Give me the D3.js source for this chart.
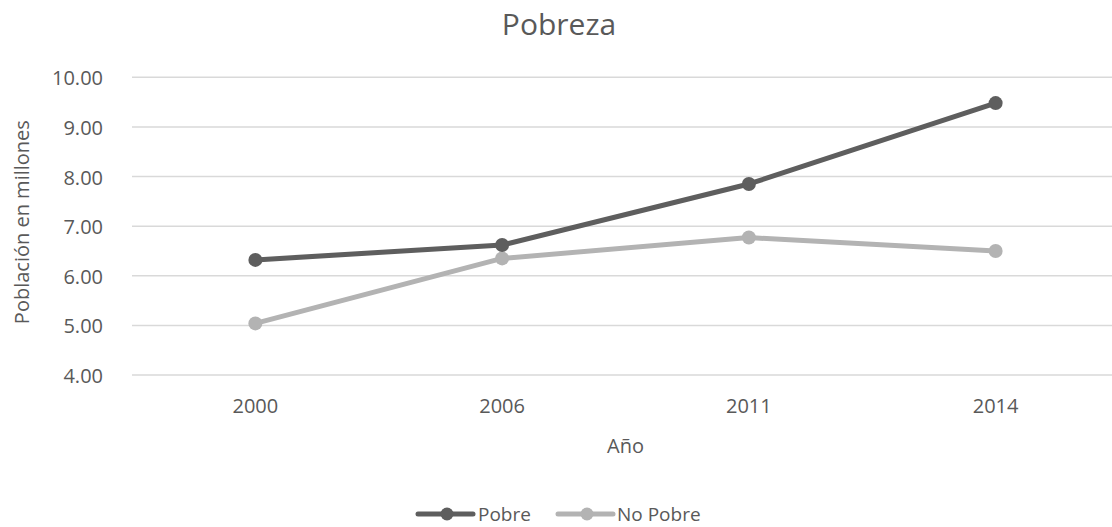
<!DOCTYPE html>
<html>
<head>
<meta charset="utf-8">
<script src="https://cdn.jsdelivr.net/npm/d3@7"></script>
<style>
  html, body { margin: 0; padding: 0; background: #fff; }
  svg { display: block; }
  text { font-family: "Open Sans", sans-serif; fill: #595959; }
</style>
</head>
<body>
<svg id="chart" width="1112" height="527"></svg>
<script>
const years = ["2000", "2006", "2011", "2014"];
const pobre = [6.32, 6.62, 7.85, 9.48];
const noPobre = [5.04, 6.35, 6.77, 6.50];
const yTicks = [4, 5, 6, 7, 8, 9, 10];
const seriesNames = ["Pobre", "No Pobre"];
const seriesColors = ["#5e5e5e", "#b3b3b3"];
const title = "Pobreza";
const xTitle = "Año";
const yTitle = "Población en millones";

const svg = d3.select("#chart");

const x = d3.scaleBand().domain(years).range([132, 1119]);
const y = d3.scaleLinear().domain([4, 10]).range([375, 77.3]);

// gridlines
svg.append("g").selectAll("line").data(yTicks).join("line")
  .attr("x1", 132).attr("x2", 1119)
  .attr("y1", d => y(d)).attr("y2", d => y(d))
  .attr("stroke", "#d9d9d9").attr("stroke-width", 1.5);

// y tick labels
svg.append("g").selectAll("text").data(yTicks).join("text")
  .attr("x", 103).attr("y", d => y(d) + 8)
  .attr("text-anchor", "end").attr("font-size", 20)
  .text(d => d3.format(".2f")(d));

// x tick labels
svg.append("g").selectAll("text").data(years).join("text")
  .attr("x", d => x(d) + x.bandwidth() / 2).attr("y", 413)
  .attr("text-anchor", "middle").attr("font-size", 20)
  .text(d => d);

// title
svg.append("text").attr("x", 559).attr("y", 35).attr("text-anchor", "middle")
  .attr("font-size", 30).text(title);

// axis titles
svg.append("text").attr("x", (x.range()[0] + x.range()[1]) / 2).attr("y", 453)
  .attr("text-anchor", "middle").attr("font-size", 20).text(xTitle);
svg.append("text")
  .attr("transform", `translate(29,${(y(4) + y(10)) / 2 - 4}) rotate(-90)`)
  .attr("text-anchor", "middle").attr("font-size", 20).text(yTitle);

// series
const series = [pobre, noPobre];
const line = d3.line().x((d, i) => x(years[i]) + x.bandwidth() / 2).y(d => y(d));
[1, 0].forEach(si => {
  const g = svg.append("g");
  g.append("path").datum(series[si])
    .attr("d", line).attr("fill", "none")
    .attr("stroke", seriesColors[si]).attr("stroke-width", 5)
    .attr("stroke-linejoin", "round").attr("stroke-linecap", "round");
  g.selectAll("circle").data(series[si]).join("circle")
    .attr("cx", (d, i) => x(years[i]) + x.bandwidth() / 2)
    .attr("cy", d => y(d)).attr("r", 7)
    .attr("fill", seriesColors[si]);
});

// legend
const legendItems = [
  { name: seriesNames[0], color: seriesColors[0], x0: 418, tx: 478 },
  { name: seriesNames[1], color: seriesColors[1], x0: 558, tx: 617 }
];
const lg = svg.append("g");
legendItems.forEach(it => {
  lg.append("line").attr("x1", it.x0).attr("x2", it.x0 + 55)
    .attr("y1", 514).attr("y2", 514)
    .attr("stroke", it.color).attr("stroke-width", 5).attr("stroke-linecap", "round");
  lg.append("circle").attr("cx", it.x0 + 29).attr("cy", 514).attr("r", 6.5).attr("fill", it.color);
  lg.append("text").attr("x", it.tx).attr("y", 521).attr("font-size", 19).text(it.name);
});
</script>
</body>
</html>
